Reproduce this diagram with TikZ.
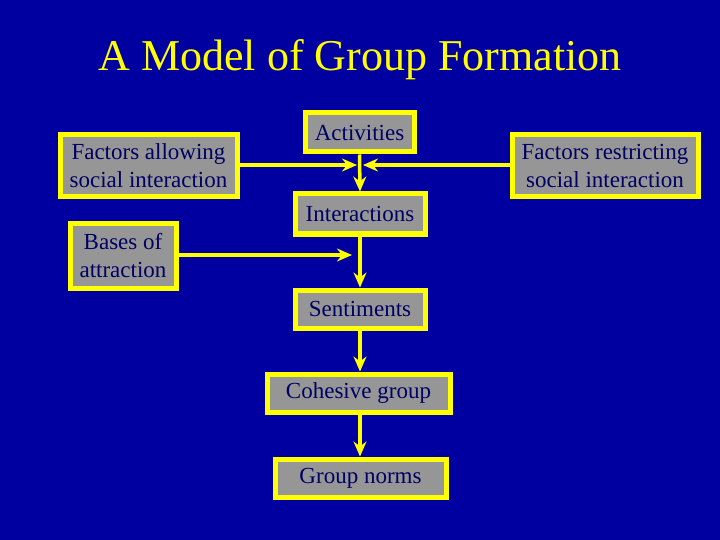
\documentclass[tikz,border=0pt]{standalone}
\usepackage{fontspec}
\setmainfont{Liberation Serif}
\usetikzlibrary{arrows.meta}
\definecolor{bg}{RGB}{0,0,160}
\definecolor{ink}{RGB}{0,0,100}
\definecolor{boxg}{RGB}{150,150,150}
\definecolor{yel}{RGB}{255,255,0}
\begin{document}
\begin{tikzpicture}[x=1pt,y=-1pt,
  bx/.style={draw=yel,fill=boxg,line width=5pt,text=ink,font=\fontsize{23}{28}\selectfont,align=center,inner sep=0pt},
  con/.style={draw=yel,line width=3.5pt,-{Stealth[length=15pt,width=13pt,inset=5pt]}}]
\fill[bg] (0,0) rectangle (720,540);
\node[text=yel,font=\fontsize{44}{48}\selectfont] (title) at (360,60) {A Model of Group Formation};
\node[bx,minimum width=109pt,minimum height=39pt] (act) at (359.5,132.5) {Activities};
\node[bx,minimum width=177pt,minimum height=62pt] (fal) at (148.5,166) {Factors allowing\\social interaction};
\node[bx,minimum width=186pt,minimum height=62pt] (frs) at (605,166) {Factors restricting\\social interaction};
\node[bx,minimum width=130pt,minimum height=40pt] (int) at (360,214) {Interactions};
\node[bx,minimum width=106pt,minimum height=64pt] (bas) at (123,256) {Bases of\\attraction};
\node[bx,minimum width=130pt,minimum height=38pt] (sen) at (360,309) {Sentiments};
\node[bx,minimum width=183pt,minimum height=38pt] (coh) at (358.5,393) {Cohesive group};
\node[bx,minimum width=171pt,minimum height=38pt] (gn) at (360.5,478) {Group norms};
\coordinate (cl) at (357,165);
\coordinate (cr) at (363,165);
\coordinate (bb) at (352,255);
\draw[con] (fal.east |- cl) -- (cl);
\draw[con] (frs.west |- cr) -- (cr);
\draw[con] (act.south) -- (int.north);
\draw[con] (bas.east |- bb) -- (bb);
\draw[con] (int.south) -- (sen.north);
\draw[con] (sen.south) -- (coh.north -| sen.south);
\draw[con] (coh.south -| sen.south) -- (gn.north -| sen.south);
\end{tikzpicture}
\end{document}
